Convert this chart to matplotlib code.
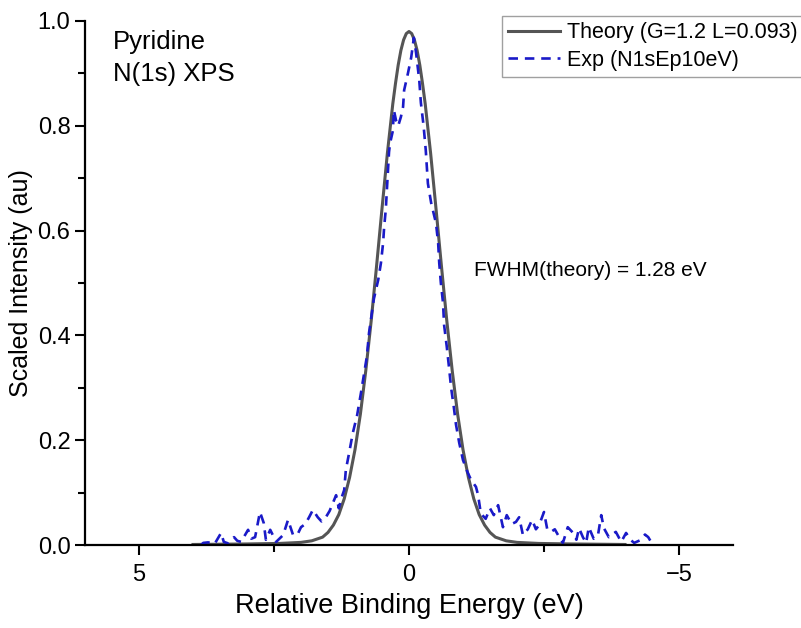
import matplotlib
matplotlib.use('Agg')
import matplotlib.pyplot as plt
from matplotlib.ticker import MultipleLocator

plt.rcParams['font.family'] = ['Liberation Sans', 'DejaVu Sans']

# theory curve
theory_x = [4.0, 3.0, 2.4, 2.0, 1.8, 1.6, 1.5, 1.4, 1.3, 1.2, 1.1, 1.0, 0.9, 0.8, 0.7, 0.6, 0.5, 0.4,
            0.3, 0.25, 0.2, 0.15, 0.1, 0.05, 0.0, -0.05, -0.1, -0.15, -0.2, -0.25, -0.3, -0.4, -0.5,
            -0.6, -0.7, -0.8, -0.9, -1.0, -1.1, -1.2, -1.3, -1.4, -1.5, -1.6, -1.8, -2.0, -2.4,
            -3.0, -4.0]
theory_y = [0.001, 0.002, 0.003, 0.005, 0.008, 0.015, 0.024, 0.038, 0.058, 0.088, 0.129, 0.182,
            0.250, 0.333, 0.428, 0.533, 0.642, 0.748, 0.842, 0.881, 0.916, 0.944, 0.964, 0.976,
            0.980, 0.976, 0.964, 0.944, 0.916, 0.881, 0.842, 0.748, 0.642, 0.533, 0.428, 0.333,
            0.250, 0.182, 0.129, 0.088, 0.058, 0.038, 0.024, 0.015, 0.008, 0.005, 0.003, 0.002,
            0.001]

exp_x = [3.85, 3.81, 3.72, 3.60, 3.48, 3.43, 3.35, 3.24, 3.18, 3.11, 2.98, 2.92, 2.85, 2.76, 2.69,
         2.65, 2.57, 2.46, 2.40, 2.33, 2.24, 2.15, 2.07, 2.00, 1.92, 1.85, 1.78, 1.69, 1.62, 1.54,
         1.47, 1.41, 1.35, 1.30, 1.25, 1.20, 1.17, 1.11, 1.04, 0.96, 0.89, 0.78, 0.74, 0.65, 0.57,
         0.52, 0.48, 0.46, 0.43, 0.41, 0.39, 0.37, 0.35, 0.30, 0.28, 0.24, 0.20, 0.15, 0.11, 0.09,
         0.02, -0.04, -0.09, -0.13, -0.19, -0.22, -0.27, -0.31, -0.35, -0.41, -0.50, -0.54, -0.56,
         -0.59, -0.63, -0.65, -0.70, -0.74, -0.78, -0.83, -0.87, -0.93, -1.00, -1.08, -1.15, -1.24,
         -1.28, -1.33, -1.42, -1.50, -1.57, -1.65, -1.74, -1.81, -1.90, -1.98, -2.04, -2.11, -2.20,
         -2.28, -2.35, -2.41, -2.50, -2.56, -2.63, -2.70, -2.76, -2.85, -2.94, -3.04, -3.10, -3.15,
         -3.22, -3.28, -3.33, -3.42, -3.50, -3.56, -3.61, -3.70, -3.76, -3.83, -3.93, -4.02, -4.10,
         -4.17, -4.30, -4.37, -4.43, -4.50]
exp_y = [0.000, 0.004, 0.005, 0.002, 0.023, 0.006, 0.003, 0.015, 0.008, 0.006, 0.029, 0.012, 0.015,
         0.063, 0.042, 0.010, 0.029, 0.006, 0.012, 0.019, 0.048, 0.020, 0.019, 0.034, 0.040, 0.053,
         0.067, 0.053, 0.045, 0.053, 0.065, 0.080, 0.095, 0.070, 0.090, 0.105, 0.143, 0.175, 0.214,
         0.248, 0.290, 0.360, 0.405, 0.470, 0.506, 0.538, 0.576, 0.607, 0.640, 0.677, 0.716, 0.750,
         0.767, 0.790, 0.830, 0.810, 0.800, 0.817, 0.836, 0.868, 0.900, 0.930, 0.968, 0.940, 0.887,
         0.844, 0.800, 0.754, 0.690, 0.653, 0.614, 0.576, 0.538, 0.500, 0.462, 0.420, 0.378, 0.340,
         0.300, 0.263, 0.230, 0.195, 0.162, 0.140, 0.124, 0.111, 0.095, 0.060, 0.050, 0.070, 0.057,
         0.076, 0.034, 0.057, 0.040, 0.044, 0.053, 0.019, 0.030, 0.048, 0.030, 0.038, 0.063, 0.030,
         0.025, 0.030, 0.019, 0.004, 0.034, 0.023, 0.010, 0.032, 0.015, 0.004, 0.034, 0.012, 0.019,
         0.057, 0.032, 0.015, 0.020, 0.025, 0.006, 0.023, 0.010, 0.004, 0.010, 0.020, 0.015, 0.003]

fig = plt.figure(figsize=(8.01, 6.28), dpi=100)
ax = fig.add_axes([85/801, 83/628, 648/801, 524/628])

ax.plot(theory_x, theory_y, color='#555555', lw=2.2, label='Theory (G=1.2 L=0.093)')
ax.plot(exp_x, exp_y, color='#1a1ac8', lw=1.9, dashes=(3.6, 2.6), label='Exp (N1sEp10eV)')

ax.set_xlim(6, -6)
ax.set_ylim(0, 1.0)
ax.xaxis.set_major_locator(MultipleLocator(5))
ax.xaxis.set_minor_locator(MultipleLocator(2.5))
ax.yaxis.set_major_locator(MultipleLocator(0.2))
ax.yaxis.set_minor_locator(MultipleLocator(0.1))
ax.yaxis.set_major_formatter(plt.FormatStrFormatter('%.1f'))
ax.xaxis.set_major_formatter(plt.FuncFormatter(lambda v, p: '\u2212%d' % -v if v < 0 else '%d' % v))

for s in ['top', 'right']:
    ax.spines[s].set_visible(False)
for s in ['left', 'bottom']:
    ax.spines[s].set_linewidth(1.6)
ax.tick_params(which='major', direction='out', length=7, width=1.5, labelsize=17, pad=7)
ax.tick_params(which='minor', direction='out', length=5, width=1.5)
ax.tick_params(axis='y', which='major', pad=3.5)

ax.set_xlabel('Relative Binding Energy (eV)', fontsize=19.5)
ax.set_ylabel('Scaled Intensity (au)', fontsize=18)
ax.xaxis.label.set_va('center')
ax.yaxis.label.set_va('center')
ax.xaxis.set_label_coords(0.5, (545 - 606) / 524)
ax.yaxis.set_label_coords((21 - 85) / 648, 0.5)

fig.text(113/801, 1 - 30/628, 'Pyridine\nN(1s) XPS', fontsize=18.5, va='top', ha='left',
         linespacing=1.4)
fig.text(474/801, 1 - 270/628, 'FWHM(theory) = 1.28 eV', fontsize=15, va='center', ha='left')

leg = fig.legend(loc='upper left', bbox_to_anchor=(502/801, 1 - 16/628), fontsize=15.5,
                 frameon=True, fancybox=False, edgecolor='#888888', borderpad=0.3,
                 handlelength=2.4, handletextpad=0.3, labelspacing=0.3, borderaxespad=0)
leg.get_frame().set_linewidth(1.0)

fig.savefig('out.png', dpi=100)
